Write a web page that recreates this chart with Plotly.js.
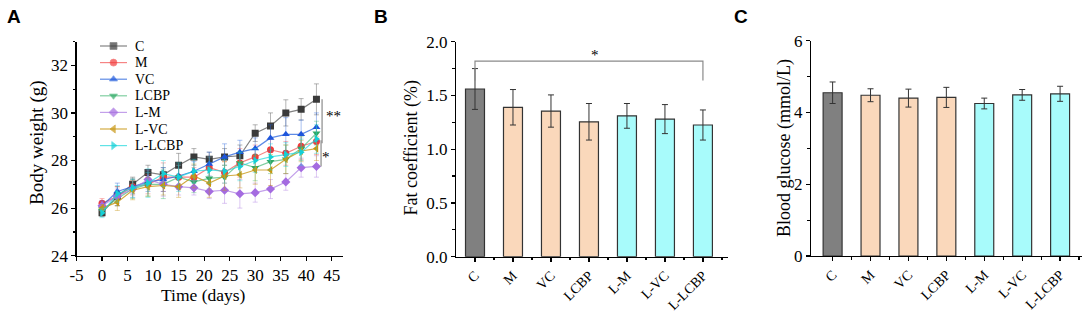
<!DOCTYPE html>
<html>
<head>
<meta charset="utf-8">
<script src="https://cdn.plot.ly/plotly-3.0.1.min.js"></script>
<style>html,body{margin:0;padding:0;background:#fff;}#chart{width:1084px;height:312px;}</style>
</head>
<body>
<div id="chart"></div>
<script>
// ---------- Panel A data ----------
const days = [0, 3, 6, 9, 12, 15, 18, 21, 24, 27, 30, 33, 36, 39, 42];
const dayTicks = [-5, 0, 5, 10, 15, 20, 25, 30, 35, 40, 45];
const dayTickLabels = ["-5", "0", "5", "10", "15", "20", "25", "30", "35", "40", "45"];
const seriesNames = ["C", "M", "VC", "LCBP", "L-M", "L-VC", "L-LCBP"];
const weightC     = [25.8, 26.5, 27.0, 27.5, 27.4, 27.8, 28.15, 28.05, 28.15, 28.2, 29.15, 29.45, 30.0, 30.15, 30.57];
const weightM     = [26.2, 26.5, 26.9, 27.0, 27.3, 27.3, 27.3, 27.7, 27.5, 27.9, 28.15, 28.45, 28.3, 28.6, 28.8];
const weightVC    = [26.1, 26.7, 26.9, 27.1, 27.2, 27.35, 27.55, 27.85, 28.15, 28.35, 28.5, 28.95, 29.1, 29.1, 29.4];
const weightLCBP  = [25.9, 26.4, 26.8, 27.0, 27.0, 27.3, 27.1, 27.25, 27.3, 27.9, 27.7, 27.95, 28.05, 28.5, 29.15];
const weightLM    = [26.1, 26.5, 26.8, 27.2, 27.0, 26.9, 26.85, 26.7, 26.75, 26.6, 26.65, 26.8, 27.1, 27.7, 27.75];
const weightLVC   = [26.0, 26.25, 26.75, 26.9, 26.95, 26.9, 27.35, 27.05, 27.35, 27.4, 27.6, 27.6, 28.05, 28.4, 28.5];
const weightLLCBP = [25.8, 26.6, 26.85, 27.05, 27.45, 27.3, 27.55, 27.6, 27.55, 27.75, 28.0, 28.15, 28.25, 28.35, 28.9];
const errC     = [0.15, 0.4, 0.3, 0.3, 0.3, 0.5, 0.35, 0.3, 0.35, 0.45, 0.35, 0.55, 0.55, 0.45, 0.65];
const errM     = [0.2, 0.4, 0.35, 0.4, 0.6, 0.5, 0.4, 0.45, 0.45, 0.6, 0.5, 0.45, 0.5, 0.55, 0.55];
const errVC    = [0.2, 0.35, 0.3, 0.4, 0.5, 0.45, 0.4, 0.5, 0.55, 0.5, 0.45, 0.55, 0.7, 0.6, 0.6];
const errLCBP  = [0.15, 0.3, 0.4, 0.5, 0.6, 0.5, 0.45, 0.45, 0.5, 0.45, 0.55, 0.5, 0.6, 0.5, 0.5];
const errLM    = [0.2, 0.3, 0.35, 0.4, 0.5, 0.35, 0.3, 0.3, 0.55, 0.6, 0.4, 0.4, 0.35, 0.4, 0.45];
const errLVC   = [0.15, 0.35, 0.4, 0.4, 0.4, 0.45, 0.5, 0.6, 0.6, 0.55, 0.6, 0.65, 0.6, 0.45, 0.5];
const errLLCBP = [0.2, 0.35, 0.4, 0.6, 0.55, 0.6, 0.5, 0.55, 0.5, 0.6, 0.5, 0.55, 0.5, 0.55, 0.6];

// ---------- Panel B / C data ----------
const groups = ["C", "M", "VC", "LCBP", "L-M", "L-VC", "L-LCBP"];
const fatCoef    = [1.56, 1.39, 1.355, 1.255, 1.31, 1.28, 1.225];
const fatErr     = [0.19, 0.165, 0.15, 0.17, 0.115, 0.135, 0.14];
const glucose    = [4.55, 4.48, 4.40, 4.42, 4.25, 4.49, 4.52];
const glucoseErr = [0.30, 0.18, 0.25, 0.28, 0.15, 0.15, 0.21];

const weights = [weightC, weightM, weightVC, weightLCBP, weightLM, weightLVC, weightLLCBP];
const errs = [errC, errM, errVC, errLCBP, errLM, errLVC, errLLCBP];
const markerColors = ["#3a3a3a", "#f23a3a", "#1d55dc", "#2ea865", "#a46be0", "#c8960e", "#14cfd6"];
const lineColors = ["rgba(90,90,90,0.75)", "rgba(242,80,80,0.7)", "rgba(40,100,220,0.75)", "rgba(60,180,110,0.65)", "rgba(170,120,225,0.7)", "rgba(200,150,20,0.8)", "rgba(30,215,220,0.7)"];
const errColors = ["rgba(90,90,90,0.45)", "rgba(242,80,80,0.4)", "rgba(40,100,220,0.4)", "rgba(60,180,110,0.4)", "rgba(170,120,225,0.4)", "rgba(200,150,20,0.4)", "rgba(30,215,220,0.4)"];
const symbols = ["square", "circle", "triangle-up", "triangle-down", "diamond", "triangle-left", "triangle-right"];

const serif = "Liberation Serif";
const W = 1084, H = 312;
const px = v => v / W, py = v => 1 - v / H;

// legend geometry (pixel layout)
const legX0 = 100, legX1 = 127, legTextX = 133, legY0 = 46, legStep = 16.6;

const traces = [];
seriesNames.forEach((n, i) => {
  traces.push({
    type: "scatter", mode: "lines+markers", name: n,
    x: days, y: weights[i], xaxis: "x", yaxis: "y",
    line: {color: lineColors[i], width: 1.2},
    marker: {symbol: symbols[i], size: 7, color: markerColors[i]},
    error_y: {type: "data", array: errs[i], visible: true, color: errColors[i], thickness: 1, width: 2.5},
    showlegend: false
  });
});
// custom legend samples on a full-figure pixel axis
seriesNames.forEach((n, i) => {
  const ly = legY0 + i * legStep;
  traces.push({
    type: "scatter", mode: "lines+markers", name: n + " (legend)",
    x: [legX0, (legX0 + legX1) / 2, legX1], y: [ly, ly, ly], xaxis: "x4", yaxis: "y4",
    line: {color: lineColors[i], width: 1.2},
    marker: {symbol: symbols[i], size: [0, 7, 0], color: markerColors[i]},
    showlegend: false, hoverinfo: "skip"
  });
});

const idx = groups.map((g, i) => i);
const barColors = ["#808080", "#fad8bb", "#fad8bb", "#fad8bb", "#a8fbfb", "#a8fbfb", "#a8fbfb"];
traces.push({
  type: "bar", x: idx, y: fatCoef, xaxis: "x2", yaxis: "y2", width: 0.5, showlegend: false,
  marker: {color: barColors, line: {color: "#333", width: 1.2}},
  error_y: {type: "data", array: fatErr, visible: true, color: "#333", thickness: 1, width: 3}
});
traces.push({
  type: "bar", x: idx, y: glucose, xaxis: "x3", yaxis: "y3", width: 0.5, showlegend: false,
  marker: {color: barColors, line: {color: "#333", width: 1.2}},
  error_y: {type: "data", array: glucoseErr, visible: true, color: "#333", thickness: 1, width: 3}
});

const axBase = {showline: true, linecolor: "#000", linewidth: 1.2, ticks: "outside", ticklen: 4, tickwidth: 1.2, tickcolor: "#000", showgrid: false, zeroline: false, tickfont: {family: serif, size: 17, color: "#000"}, fixedrange: true};
const minorY = (d) => ({dtick: d, tick0: 0, ticks: "outside", ticklen: 2.5, tickcolor: "#000", showgrid: false});
const minorCat = {tickvals: [0.5, 1.5, 2.5, 3.5, 4.5, 5.5, 6.5], ticks: "outside", ticklen: 2.5, tickcolor: "#000", showgrid: false};

const legendAnn = seriesNames.map((n, i) => ({
  text: n, xref: "x4", yref: "y4", x: legTextX, y: legY0 + i * legStep, xanchor: "left", yanchor: "middle",
  showarrow: false, font: {family: serif, size: 14, color: "#000"}
}));

const layout = {
  width: W, height: H, margin: {l: 0, r: 0, t: 0, b: 0},
  paper_bgcolor: "#fff", plot_bgcolor: "rgba(0,0,0,0)",
  font: {family: serif, color: "#000"},
  showlegend: false,
  xaxis: Object.assign({}, axBase, {domain: [px(76.5), px(343)], range: [-5, 47.2], tickvals: dayTicks, ticktext: dayTickLabels, anchor: "y"}),
  yaxis: Object.assign({}, axBase, {domain: [py(255.7), py(41.5)], range: [24, 33], dtick: 2, tick0: 24, anchor: "x", minor: minorY(1)}),
  xaxis2: Object.assign({}, axBase, {domain: [px(456), px(728)], range: [-0.5, 6.66], tickvals: idx, ticktext: groups, tickangle: -45, anchor: "y2",
    tickfont: {family: serif, size: 14, color: "#000"}, minor: minorCat}),
  yaxis2: Object.assign({}, axBase, {domain: [py(256.7), py(41.7)], range: [0, 2], dtick: 0.5, tick0: 0, tickformat: ".1f", anchor: "x2", minor: minorY(0.25)}),
  xaxis3: Object.assign({}, axBase, {domain: [px(811), px(1081.7)], range: [-0.57, 6.57], tickvals: idx, ticktext: groups, tickangle: -45, anchor: "y3",
    tickfont: {family: serif, size: 14, color: "#000"}, minor: minorCat}),
  yaxis3: Object.assign({}, axBase, {domain: [py(256), py(40.7)], range: [0, 6], dtick: 2, tick0: 0, anchor: "x3", minor: minorY(1)}),
  xaxis4: {domain: [0, 1], range: [0, W], visible: false, fixedrange: true, anchor: "y4"},
  yaxis4: {domain: [0, 1], range: [H, 0], visible: false, fixedrange: true, anchor: "x4"},
  bargap: 0.5,
  shapes: [
    {type: "line", xref: "x", yref: "y", x0: 43.1, x1: 43.1, y0: 30.57, y1: 28.72, line: {color: "#8a8a8a", width: 1.2}},
    {type: "line", xref: "x", yref: "y", x0: 42.9, x1: 42.9, y0: 28.85, y1: 27.75, line: {color: "#8a8a8a", width: 1.2}},
    {type: "path", xref: "x2", yref: "y2", path: "M 0,1.64 L 0,1.82 L 6,1.82 L 6,1.64", line: {color: "#8a8a8a", width: 1.2}}
  ],
  annotations: legendAnn.concat([
    {text: "<b>A</b>", xref: "paper", yref: "paper", x: px(5), y: py(4), xanchor: "left", yanchor: "top", showarrow: false, font: {family: "Liberation Sans", size: 19, color: "#000"}},
    {text: "<b>B</b>", xref: "paper", yref: "paper", x: px(372), y: py(4), xanchor: "left", yanchor: "top", showarrow: false, font: {family: "Liberation Sans", size: 19, color: "#000"}},
    {text: "<b>C</b>", xref: "paper", yref: "paper", x: px(732), y: py(4), xanchor: "left", yanchor: "top", showarrow: false, font: {family: "Liberation Sans", size: 19, color: "#000"}},
    {text: "Body weight (g)", xref: "paper", yref: "paper", x: px(37), y: py(143), textangle: -90, xanchor: "center", yanchor: "middle", showarrow: false, font: {family: serif, size: 19}},
    {text: "Time (days)", xref: "paper", yref: "paper", x: px(203), y: py(295), xanchor: "center", yanchor: "middle", showarrow: false, font: {family: serif, size: 17.5}},
    {text: "Fat coefficient (%)", xref: "paper", yref: "paper", x: px(411), y: py(147.5), textangle: -90, xanchor: "center", yanchor: "middle", showarrow: false, font: {family: serif, size: 18}},
    {text: "Blood glucose (mmol/L)", xref: "paper", yref: "paper", x: px(784), y: py(148), textangle: -90, xanchor: "center", yanchor: "middle", showarrow: false, font: {family: serif, size: 18}},
    {text: "**", xref: "x", yref: "y", x: 45.3, y: 29.85, showarrow: false, font: {family: serif, size: 15}},
    {text: "*", xref: "x", yref: "y", x: 43.9, y: 28.15, showarrow: false, font: {family: serif, size: 15}},
    {text: "*", xref: "x2", yref: "y2", x: 3.15, y: 1.88, showarrow: false, font: {family: serif, size: 15}}
  ])
};

Plotly.newPlot("chart", traces, layout, {staticPlot: true, displayModeBar: false});
</script>
</body>
</html>
